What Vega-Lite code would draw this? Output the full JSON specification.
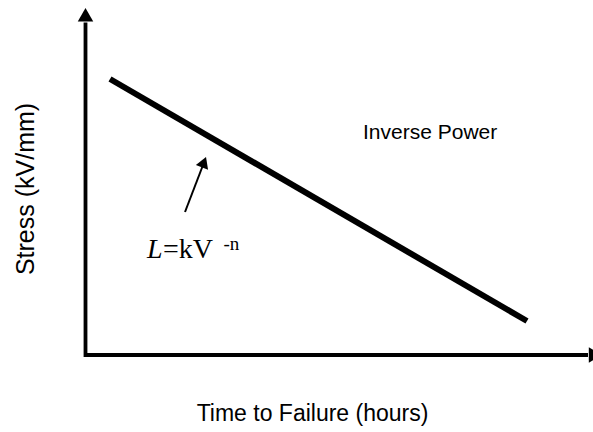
{
  "$schema": "https://vega.github.io/schema/vega-lite/v6.json",
  "width": 593,
  "height": 432,
  "padding": 0,
  "autosize": {"type": "none"},
  "background": "white",
  "config": {"view": {"stroke": null}},
  "datasets": {
    "curve": [
      {"time": 0.49, "stress": 7.886},
      {"time": 8.83, "stress": 0.971}
    ],
    "axes": [
      {"name": "y", "x1": 0, "y1": -0.06, "x2": 0, "y2": 9.5},
      {"name": "x", "x1": -0.03, "y1": 0, "x2": 10.05, "y2": 0}
    ],
    "heads": [
      {"name": "y", "x": 0, "y": 9.72, "shape": "triangle-up"},
      {"name": "x", "x": 10.2, "y": 0, "shape": "triangle-right"}
    ],
    "pointer": [
      {"x1": 1.99, "y1": 4.086, "x2": 2.37, "y2": 5.5}
    ],
    "pointerHead": [
      {"x": 2.37, "y": 5.51}
    ],
    "labels": [
      {"x": 5.55, "y": 6.171, "text": "Inverse Power"}
    ],
    "titles": [
      {"x": 4.54, "y": -1.886, "text": "Time to Failure (hours)"}
    ],
    "formulaL": [{"x": 1.23, "y": 2.771, "text": "L"}],
    "formulaMid": [{"x": 1.55, "y": 2.771, "text": "=kV"}],
    "formulaExp": [{"x": 2.76, "y": 3.0, "text": "-n"}]
  },
  "layer": [
    {
      "data": {"name": "axes"},
      "mark": {"type": "rule", "color": "black", "strokeWidth": 3.8},
      "encoding": {
        "x": {"field": "x1", "type": "quantitative", "scale": {"domain": [-1.71, 10.15], "nice": false, "zero": false}, "axis": null},
        "y": {"field": "y1", "type": "quantitative", "scale": {"domain": [-2.2, 10.143], "nice": false, "zero": false}, "axis": null},
        "x2": {"field": "x2"},
        "y2": {"field": "y2"}
      }
    },
    {
      "data": {"name": "heads"},
      "mark": {"type": "point", "filled": true, "color": "black", "opacity": 1, "size": 240},
      "encoding": {
        "x": {"field": "x", "type": "quantitative"},
        "y": {"field": "y", "type": "quantitative"},
        "shape": {"field": "shape", "type": "nominal", "scale": null, "legend": null}
      }
    },
    {
      "data": {"name": "curve"},
      "mark": {"type": "line", "color": "black", "strokeWidth": 6, "strokeCap": "butt"},
      "encoding": {
        "x": {"field": "time", "type": "quantitative"},
        "y": {"field": "stress", "type": "quantitative"}
      }
    },
    {
      "data": {"name": "pointer"},
      "mark": {"type": "rule", "color": "black", "strokeWidth": 2},
      "encoding": {
        "x": {"field": "x1", "type": "quantitative"},
        "y": {"field": "y1", "type": "quantitative"},
        "x2": {"field": "x2"},
        "y2": {"field": "y2"}
      }
    },
    {
      "data": {"name": "pointerHead"},
      "mark": {"type": "point", "filled": true, "color": "black", "opacity": 1, "size": 170, "shape": "triangle-up", "angle": 21},
      "encoding": {
        "x": {"field": "x", "type": "quantitative"},
        "y": {"field": "y", "type": "quantitative"}
      }
    },
    {
      "data": {"name": "labels"},
      "mark": {"type": "text", "font": "Liberation Sans", "fontSize": 21, "align": "left", "baseline": "alphabetic", "color": "black"},
      "encoding": {
        "x": {"field": "x", "type": "quantitative"},
        "y": {"field": "y", "type": "quantitative"},
        "text": {"field": "text"}
      }
    },
    {
      "data": {"name": "titles"},
      "mark": {"type": "text", "font": "Liberation Sans", "fontSize": 23, "align": "center", "baseline": "alphabetic", "color": "black"},
      "encoding": {
        "x": {"field": "x", "type": "quantitative"},
        "y": {"field": "y", "type": "quantitative"},
        "text": {"field": "text"}
      }
    },
    {
      "data": {"values": [{"x": -1.03, "y": 4.743, "text": "Stress (kV/mm)"}]},
      "mark": {"type": "text", "font": "Liberation Sans", "fontSize": 25, "align": "center", "baseline": "alphabetic", "angle": 270, "color": "black"},
      "encoding": {
        "x": {"field": "x", "type": "quantitative"},
        "y": {"field": "y", "type": "quantitative"},
        "text": {"field": "text"}
      }
    },
    {
      "data": {"name": "formulaL"},
      "mark": {"type": "text", "font": "Liberation Serif", "fontStyle": "italic", "fontSize": 28, "align": "left", "baseline": "alphabetic", "color": "black"},
      "encoding": {
        "x": {"field": "x", "type": "quantitative"},
        "y": {"field": "y", "type": "quantitative"},
        "text": {"field": "text"}
      }
    },
    {
      "data": {"name": "formulaMid"},
      "mark": {"type": "text", "font": "Liberation Serif", "fontSize": 28, "align": "left", "baseline": "alphabetic", "color": "black"},
      "encoding": {
        "x": {"field": "x", "type": "quantitative"},
        "y": {"field": "y", "type": "quantitative"},
        "text": {"field": "text"}
      }
    },
    {
      "data": {"name": "formulaExp"},
      "mark": {"type": "text", "font": "Liberation Serif", "fontSize": 19, "align": "left", "baseline": "alphabetic", "color": "black"},
      "encoding": {
        "x": {"field": "x", "type": "quantitative"},
        "y": {"field": "y", "type": "quantitative"},
        "text": {"field": "text"}
      }
    }
  ]
}
